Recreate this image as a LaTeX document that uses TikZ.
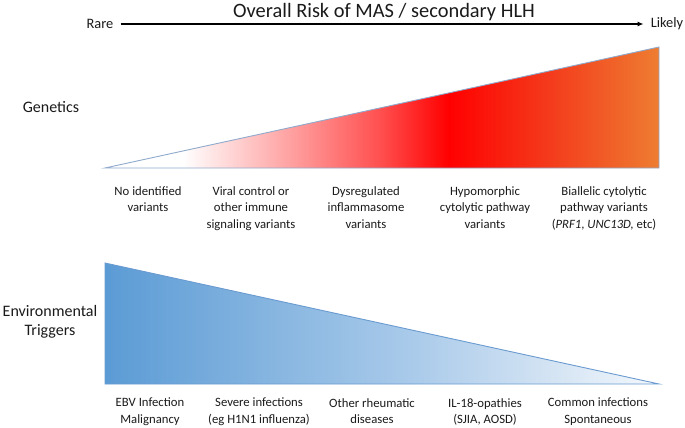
\documentclass[tikz,border=0pt]{standalone}
\usepackage{fontspec}
\setmainfont{Carlito}
\usetikzlibrary{arrows.meta}
\definecolor{genA}{HTML}{FF9E9E}
\definecolor{genB}{HTML}{FF4D4D}
\definecolor{genC}{HTML}{FF0000}
\definecolor{genD}{HTML}{F43A1C}
\definecolor{genE}{HTML}{EE7D31}
\definecolor{envA}{HTML}{5B9BD5}
\definecolor{envB}{HTML}{86B5E0}
\definecolor{envC}{HTML}{A9CAEA}
\definecolor{envD}{HTML}{D3E3F3}
\definecolor{envE}{HTML}{F4F8FC}
\definecolor{genline}{HTML}{8FAACC}
\definecolor{envline}{HTML}{6A9BD0}
\definecolor{txt}{HTML}{1A1A1A}
\pgfdeclarehorizontalshading{genshade}{100bp}{color(0bp)=(white); color(25bp)=(white); color(32bp)=(white); color(42bp)=(genA); color(50bp)=(genB); color(56bp)=(genC); color(65bp)=(genD); color(75bp)=(genE); color(100bp)=(genE)}
\pgfdeclarehorizontalshading{envshade}{100bp}{color(0bp)=(envA); color(25bp)=(envA); color(40bp)=(envB); color(52.5bp)=(envC); color(65bp)=(envD); color(75bp)=(envE); color(100bp)=(envE)}
\tikzset{
  lbl/.style={anchor=north, align=center, inner sep=0pt, text=txt, font=\fontsize{12.7}{16.5}\selectfont},
  side/.style={align=center, inner sep=0pt, text=txt, font=\fontsize{16}{19}\selectfont},
  ends/.style={inner sep=0pt, text=txt, font=\fontsize{14.4}{17}\selectfont},
  ttl/.style={inner sep=0pt, text=txt, font=\fontsize{20.4}{24}\selectfont},
}
\begin{document}
\begin{tikzpicture}[x=1pt,y=-1pt]
\useasboundingbox (0,0) rectangle (685,428);
% title and risk arrow
\node[ttl] (title) at (384,12) {Overall Risk of MAS / secondary HLH};
\node[ends] (rare) at (100,24) {Rare};
\node[ends] (likely) at (667,24) {Likely};
\draw[line width=1.5pt, -{Latex[length=6pt,width=5pt]}, shorten <=7pt, shorten >=7pt] (rare.east) -- (likely.west);
% genetics
\node[side] (gen) at (51,107) {Genetics};
\draw[shading=genshade, draw=genline, line width=0.9pt] (105,168) -- (659,47) -- (659,168) -- cycle;
\node[lbl] (g1) at (148,186) {No identified\\variants};
\node[lbl] (g2) at (251,186) {Viral control or\\other immune\\signaling variants};
\node[lbl] (g3) at (366,186) {Dysregulated\\inflammasome\\variants};
\node[lbl] (g4) at (485,186) {Hypomorphic\\cytolytic pathway\\variants};
\node[lbl] (g5) at (604,186) {Biallelic cytolytic\\pathway variants\\(\textit{PRF1}, \textit{UNC13D,} etc)};
% environmental triggers
\node[side] (env) at (50,322) {Environmental\\Triggers};
\draw[shading=envshade, draw=envline, line width=0.9pt] (105,263) -- (659,384) -- (105,384) -- cycle;
\node[lbl] (e1) at (150,398) {EBV Infection\\Malignancy};
\node[lbl] (e2) at (259,398) {Severe infections\\(eg H1N1 influenza)};
\node[lbl] (e3) at (372,398) {Other rheumatic\\diseases};
\node[lbl] (e4) at (485,398) {IL-18-opathies\\(SJIA, AOSD)};
\node[lbl] (e5) at (598,398) {Common infections\\Spontaneous};
\end{tikzpicture}
\end{document}
